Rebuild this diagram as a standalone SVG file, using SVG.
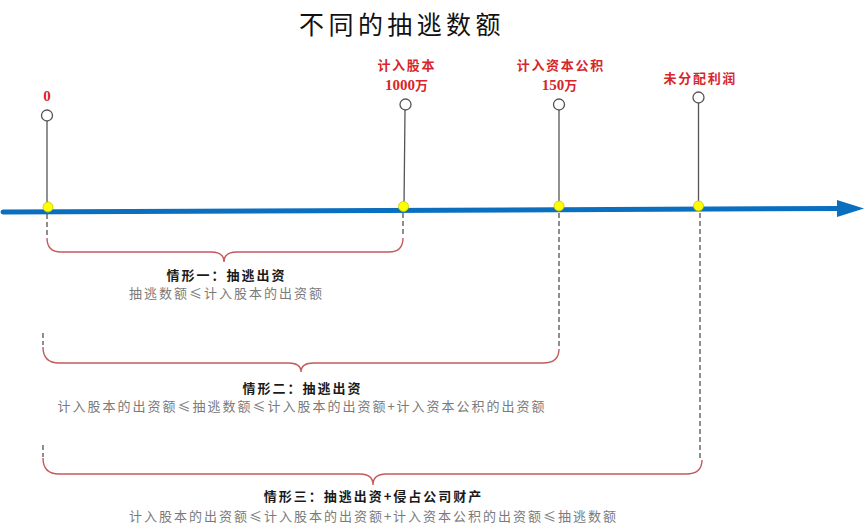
<svg xmlns="http://www.w3.org/2000/svg" width="865" height="531" viewBox="0 0 865 531">
<style>
text{font-family:"Noto Sans CJK SC","Noto Sans",sans-serif;text-anchor:middle}
.title{font-size:25px;letter-spacing:4.4px;fill:#111}
.red{font-family:"Liberation Serif","Noto Sans CJK SC",serif;font-size:13px;font-weight:bold;letter-spacing:1.7px;fill:#D7262B}
.num{font-size:15px;letter-spacing:0}
.head{font-size:13px;font-weight:bold;letter-spacing:2px;fill:#1a1a1a}
.sub{font-size:13px;letter-spacing:2px;fill:#7a7a7a}
.stem{stroke:#555;stroke-width:1.3;fill:none}
.ring{fill:#fff;stroke:#555;stroke-width:1.3}
.dot{fill:#FFFF00;stroke:#C8C800;stroke-width:0.8}
.dash{stroke:#444;stroke-width:1.2;stroke-dasharray:5 3;fill:none}
.brace{stroke:#C45A5A;stroke-width:1.4;fill:none}
</style>
<rect width="865" height="531" fill="#fff"/>
<text id="title" class="title" x="402" y="34">不同的抽逃数额</text>

<g id="connectors">
  <line x1="3" y1="212" x2="840" y2="208.5" stroke="#0B6FC0" stroke-width="5" stroke-linecap="round"/>
  <polygon points="837,200 864,208.5 837,217" fill="#0B6FC0"/>
  <line class="dash" x1="47" y1="214" x2="47" y2="236"/>
  <line class="dash" x1="403" y1="213" x2="403" y2="236"/>
  <line class="dash" x1="559" y1="213" x2="559" y2="348"/>
  <line class="dash" x1="700" y1="213" x2="700" y2="458"/>
  <line class="dash" x1="43" y1="333" x2="43" y2="345"/>
  <line class="dash" x1="43" y1="445" x2="43" y2="457"/>
</g>

<g id="node-0">
  <line class="stem" x1="47" y1="121" x2="47" y2="207"/>
  <circle class="ring" cx="47" cy="115.5" r="5.5"/>
  <circle class="dot" cx="48" cy="207" r="5"/>
  <text class="red num" x="47" y="101">0</text>
</g>
<g id="node-share">
  <line class="stem" x1="405" y1="110" x2="404" y2="206"/>
  <circle class="ring" cx="405.5" cy="104.5" r="5.5"/>
  <circle class="dot" cx="403.5" cy="206.5" r="5"/>
  <text class="red" x="406.8" y="70">计入股本</text>
  <text class="red num" x="406.5" y="89.5">1000<tspan font-size="13">万</tspan></text>
</g>
<g id="node-reserve">
  <line class="stem" x1="559" y1="110" x2="559" y2="206"/>
  <circle class="ring" cx="559" cy="104.5" r="5.5"/>
  <circle class="dot" cx="559" cy="206" r="5"/>
  <text class="red" x="560.8" y="70">计入资本公积</text>
  <text class="red num" x="559.5" y="89.5">150<tspan font-size="13">万</tspan></text>
</g>
<g id="node-profit">
  <line class="stem" x1="698.5" y1="103" x2="698.5" y2="206"/>
  <circle class="ring" cx="698.5" cy="97.5" r="5.5"/>
  <circle class="dot" cx="698.5" cy="206" r="5"/>
  <text class="red" x="700.3" y="82.5">未分配利润</text>
</g>

<g id="case-1">
  <path class="brace" d="M47,238 Q47,252 61,252 L211,252 Q224,252 224,262 Q224,252 237,252 L389,252 Q403,252 403,238"/>
  <text class="head" x="226.5" y="280">情形一：抽逃出资</text>
  <text class="sub" x="226.5" y="298">抽逃数额≤计入股本的出资额</text>
</g>
<g id="case-2">
  <path class="brace" d="M43,347 Q43,363 59,363 L288,363 Q301,363 301,372 Q301,363 314,363 L543,363 Q559,363 559,349"/>
  <text class="head" x="302.5" y="393">情形二：抽逃出资</text>
  <text class="sub" x="302" y="411">计入股本的出资额≤抽逃数额≤计入股本的出资额+计入资本公积的出资额</text>
</g>
<g id="case-3">
  <path class="brace" d="M43,458 Q43,474 59,474 L360,474 Q373,474 373,485 Q373,474 386,474 L686,474 Q702,474 702,460"/>
  <text class="head" x="373.5" y="501">情形三：抽逃出资+侵占公司财产</text>
  <text class="sub" x="373.5" y="521">计入股本的出资额≤计入股本的出资额+计入资本公积的出资额≤抽逃数额</text>
</g>
</svg>
